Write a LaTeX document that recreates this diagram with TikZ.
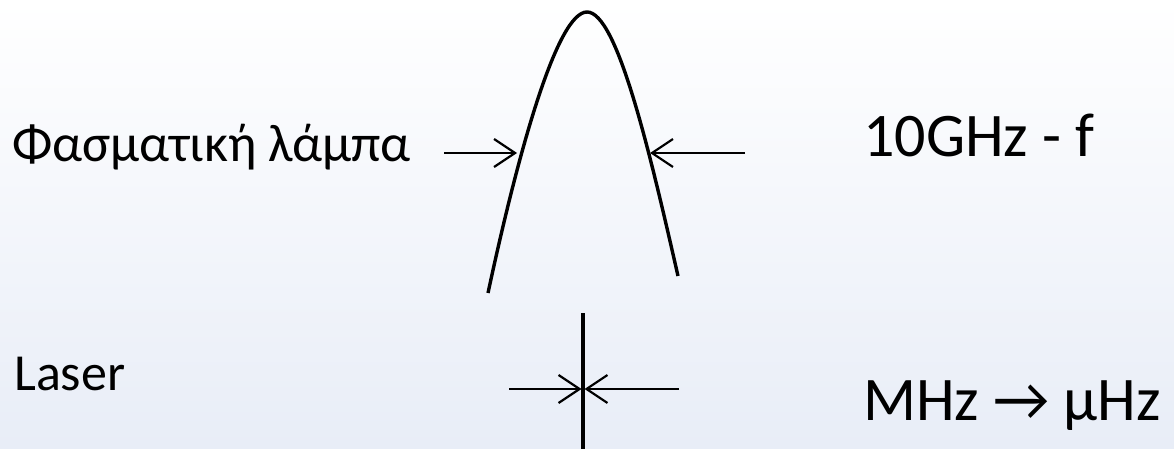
\documentclass[tikz,border=0pt]{standalone}
\usepackage{fontspec}
\setmainfont{Carlito}
\usetikzlibrary{arrows.meta}
\definecolor{bgblue}{RGB}{232,237,247}

\begin{document}
\begin{tikzpicture}[x=1pt, y=-1pt,
  curve/.style={line width=3.4pt},
  pointer/.style={line width=2.2pt, -{Straight Barb[length=21pt, width=28pt]}},
  txt/.style={anchor=base west, inner sep=0pt}]
  \shade[top color=white, bottom color=bgblue] (0,0) rectangle (1174,449);
  \useasboundingbox (0,0) rectangle (1174,449);
  % texts
  \node[txt, font=\fontsize{53}{60}\selectfont] (lamp) at (12,162) {Φασματική λάμπα};
  \node[txt, font=\fontsize{52}{60}\selectfont] (laser) at (14,390) {Laser};
  \node[txt, font=\fontsize{62}{70}\selectfont] (wide) at (863,157) {10GHz - f};
  \node[txt, font=\fontsize{62}{70}\selectfont] (narrow) at (863,420) {MHz → μHz};
  % spectral line of the lamp
  \coordinate (lampL) at (488,293);
  \coordinate (peak) at (587,12);
  \coordinate (lampR) at (678,276);
  \draw[curve] (lampL) .. controls (518,153) and (557,12) .. (peak)
    .. controls (617,12) and (649.5,151) .. (lampR);
  \coordinate (inL) at (517,153);
  \coordinate (inR) at (650,153);
  \coordinate (fromL) at (444,153);
  \coordinate (fromR) at (745,153);
  \draw[pointer] (fromL) -- (inL);
  \draw[pointer] (fromR) -- (inR);
  % laser line
  \coordinate (laserT) at (583,313);
  \coordinate (laserB) at (583,449);
  \draw[curve] (laserT) -- (laserB);
  \coordinate (tipL) at (581.5,389);
  \coordinate (tipR) at (584.5,389);
  \draw[pointer] (509,389) coordinate (startL) -- (tipL);
  \draw[pointer] (679,389) coordinate (startR) -- (tipR);
\end{tikzpicture}
\end{document}
